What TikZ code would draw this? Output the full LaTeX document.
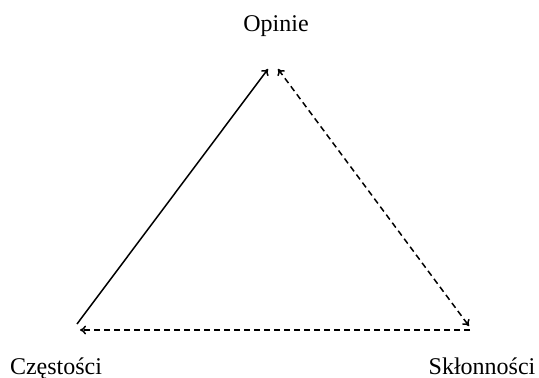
\documentclass[tikz,border=0pt]{standalone}
\usepackage{fontspec}
\setmainfont{Liberation Serif}
\usepackage{tikz}
\usetikzlibrary{arrows.meta}

\begin{document}
\begin{tikzpicture}[
  x=1pt, y=-1pt,
  lbl/.style={font=\fontsize{24}{28}\selectfont, inner sep=0pt, anchor=base},
  arr/.style={-{To[length=6pt,width=9pt]}, line width=1.5pt},
  darr/.style={arr, dash pattern=on 6pt off 4pt}
]
  \useasboundingbox (0,0) rectangle (539,378);
  \node[lbl] (opinie) at (276,31) {Opinie};
  \node[lbl] (czestosci) at (56,374) {Częstości};
  \node[lbl] (sklonnosci) at (482,374) {Skłonności};
  % arrow end points
  \coordinate (topL) at (268,69);
  \coordinate (topR) at (278,69);
  \coordinate (left) at (77,324);
  \coordinate (leftB) at (80,330);
  \coordinate (rightT) at (469,326);
  \coordinate (rightB) at (470,330);
  \draw[arr] (left) -- (topL);
  \draw[darr, {To[length=6pt,width=9pt]}-{To[length=6pt,width=9pt]}] (topR) -- (rightT);
  \draw[darr] (rightB) -- (leftB);
\end{tikzpicture}
\end{document}
